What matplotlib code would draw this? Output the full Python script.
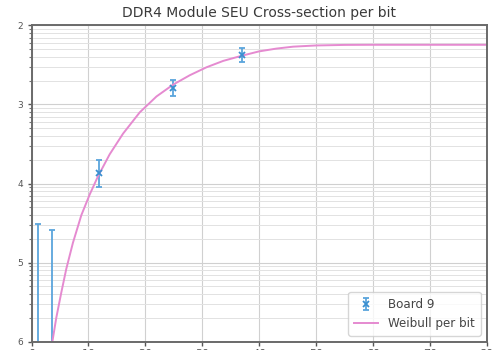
import matplotlib
matplotlib.use("Agg")
import matplotlib.pyplot as plt
import matplotlib.ticker as mticker
import numpy as np

# Measured data (Board 9)
let_pts = [1.18, 3.65, 11.86, 24.9, 36.95]
xs_pts = [0.0, 0.0, 1.35e-14, 1.62e-13, 4.23e-13]
err_lo = [0.0, 0.0, 0.44e-14, 0.34e-13, 0.80e-13]
err_hi = [3.11e-15, 2.61e-15, 0.64e-14, 0.44e-13, 0.99e-13]

# Weibull fit curve
curve_x = [3.55, 4.35, 5.23, 6.11, 7.28, 8.76, 10.22, 11.68, 13.74, 16.09,
           19.03, 21.97, 24.9, 27.84, 30.78, 33.71, 36.95, 40.0, 43.0,
           46.0, 50.0, 55.0, 60.0, 80.0]
curve_y = [8.9e-17, 2.00e-16, 4.17e-16, 8.32e-16, 1.78e-15, 3.98e-15, 7.24e-15,
           1.23e-14, 2.34e-14, 4.27e-14, 7.94e-14, 1.26e-13, 1.78e-13, 2.34e-13,
           2.95e-13, 3.55e-13, 4.12e-13, 4.68e-13, 5.07e-13, 5.37e-13, 5.56e-13,
           5.65e-13, 5.67e-13, 5.67e-13]

x_ticks = [0, 10, 20, 30, 40, 50, 60, 70, 80]
y_ticks = [1e-16, 1e-15, 1e-14, 1e-13, 1e-12]
y_tick_labels = ["6", "5", "4", "3", "2"]

fig = plt.figure(figsize=(4.98, 3.5), dpi=100)
ax = fig.add_axes([0.0633, 0.0237, 0.9137, 0.904])

ax.set_yscale("log")
ax.set_xlim(0, 80)
ax.set_ylim(1e-16, 1e-12)

ax.grid(True, which="major", color="#d0d0d0", lw=0.8)
ax.grid(True, which="minor", axis="y", color="#e2e2e2", lw=0.7)
ax.set_axisbelow(True)

eb = ax.errorbar(let_pts, xs_pts, yerr=[err_lo, err_hi], fmt="x", color="#3a8fd0",
                 ecolor="#5aa5dc", elinewidth=1.3, capsize=2.5, capthick=1.2,
                 markersize=5, mew=1.3, label="Board 9")
ln, = ax.plot(curve_x, curve_y, color="#e58ad0", lw=1.4, label="Weibull per bit")

ax.set_xticks(x_ticks)
ax.set_yticks(y_ticks)
ax.yaxis.set_major_formatter(mticker.FixedFormatter(y_tick_labels))
ax.yaxis.set_minor_locator(mticker.LogLocator(base=10, subs=np.arange(2, 10)))
ax.yaxis.set_minor_formatter(mticker.NullFormatter())

ax.tick_params(axis="x", which="major", length=3, width=1, color="#555555",
               labelsize=8, labelcolor="#555555", pad=2.5)
ax.tick_params(axis="y", which="major", length=3, width=1, color="#555555",
               labelsize=6.5, labelcolor="#555555", pad=3)
ax.tick_params(axis="y", which="minor", length=2, width=0.8, color="#777777")

for s in ax.spines.values():
    s.set_color("#6a6a6a")
    s.set_linewidth(1.4)

ax.set_title("DDR4 Module SEU Cross-section per bit", fontsize=10,
             color="#3a3a3a", pad=6)

leg = ax.legend([eb, ln], ["Board 9", "Weibull per bit"], loc="lower right",
                fontsize=8.6, frameon=True, fancybox=True, borderpad=0.5,
                handlelength=2.0, labelcolor="#444444")
leg.get_frame().set_edgecolor("#cccccc")

fig.savefig("out.png", dpi=100)
